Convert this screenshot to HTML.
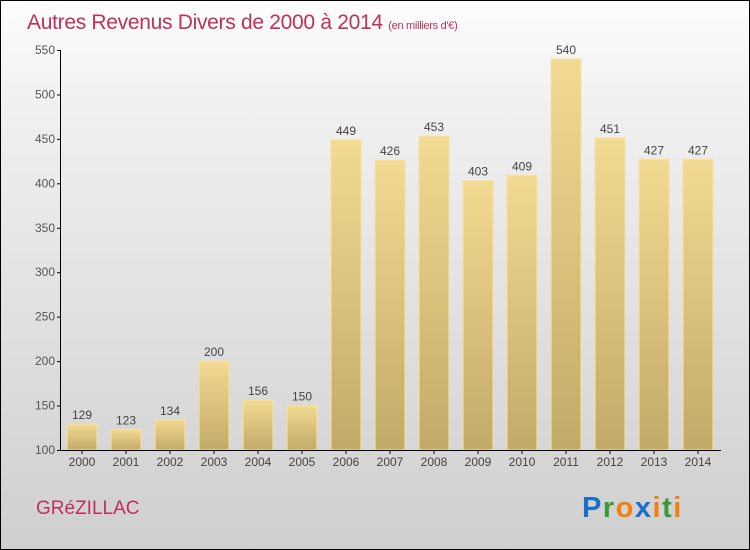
<!DOCTYPE html>
<html><head><meta charset="utf-8"><style>
body{margin:0;width:750px;height:550px;overflow:hidden}
#c{position:absolute;left:0;top:0;width:748px;height:548px;border:1px solid #000;background:linear-gradient(#fdfdfd,#f0f0f0 20%,#cfcfcf)}
svg{position:absolute;left:0;top:0}
text{font-family:"Liberation Sans",sans-serif}
</style></head><body>
<div id="c"></div>
<svg id="s" width="750" height="550">
<defs><linearGradient id="g" x1="0" y1="0" x2="0" y2="1"><stop offset="0" stop-color="#f3da92"/><stop offset="1" stop-color="#c2aa68"/></linearGradient></defs>
<text x="27" y="29" font-size="21" fill="#c0305c" font-weight="300" letter-spacing="-0.3">Autres Revenus Divers de 2000 à 2014 <tspan font-size="11">(en milliers d'€)</tspan></text>
<text x="36" y="514" font-size="19" fill="#c0305c" font-weight="300">GRéZILLAC</text>
<g font-size="29" font-weight="bold">
<text x="582" y="517" fill="#1a6fc8" letter-spacing="1.5">P<tspan fill="#3a9a3a">r</tspan><tspan fill="#f08010">o</tspan><tspan fill="#1a6fc8">x</tspan><tspan fill="#f08010">i</tspan><tspan fill="#3a9a3a">t</tspan><tspan fill="#f08010">i</tspan></text></g>
<g id="bars"></g><g id="axes"></g>
</svg>
<script>
const years=["2000","2001","2002","2003","2004","2005","2006","2007","2008","2009","2010","2011","2012","2013","2014"];
const values=[129,123,134,200,156,150,449,426,453,403,409,540,451,427,427];
const yTicks=[100,150,200,250,300,350,400,450,500,550];
const NS="http://www.w3.org/2000/svg";
const y=v=>450-(v-100)*400/450;
const x=i=>82+44*i;
function mk(t,a,p){const e=document.createElementNS(NS,t);for(const k in a)e.setAttribute(k,a[k]);p.appendChild(e);return e;}
const B=document.getElementById('bars'),A=document.getElementById('axes');
values.forEach((v,i)=>{
 const r=mk('rect',{x:x(i)-15,y:y(v),width:30,height:450-y(v),fill:'url(#g)',stroke:'#f5e3a0','stroke-width':1},B);
 
 
 const t=mk('text',{x:x(i),y:y(v)-5,'text-anchor':'middle','font-size':12,fill:'#444'},B);t.textContent=v;
 
 
 const xl=mk('text',{x:x(i),y:466,'text-anchor':'middle','font-size':12,fill:'#444'},A);xl.textContent=years[i];
 
 
 mk('line',{x1:x(i),x2:x(i),y1:450,y2:454,stroke:'#000'},A);
});
const ya=mk('line',{x1:60.5,x2:60.5,y1:y(550),y2:450,stroke:'#000'},A);


const xa=mk('line',{x1:60,x2:721,y1:450.5,y2:450.5,stroke:'#000'},A);


yTicks.forEach(v=>{
 mk('line',{x1:57,x2:61,y1:y(v)+.5,y2:y(v)+.5,stroke:'#000'},A);
 const t=mk('text',{x:55,y:y(v)+4,'text-anchor':'end','font-size':12,fill:'#555'},A);t.textContent=v;
 
 
});
</script>
</body></html>
